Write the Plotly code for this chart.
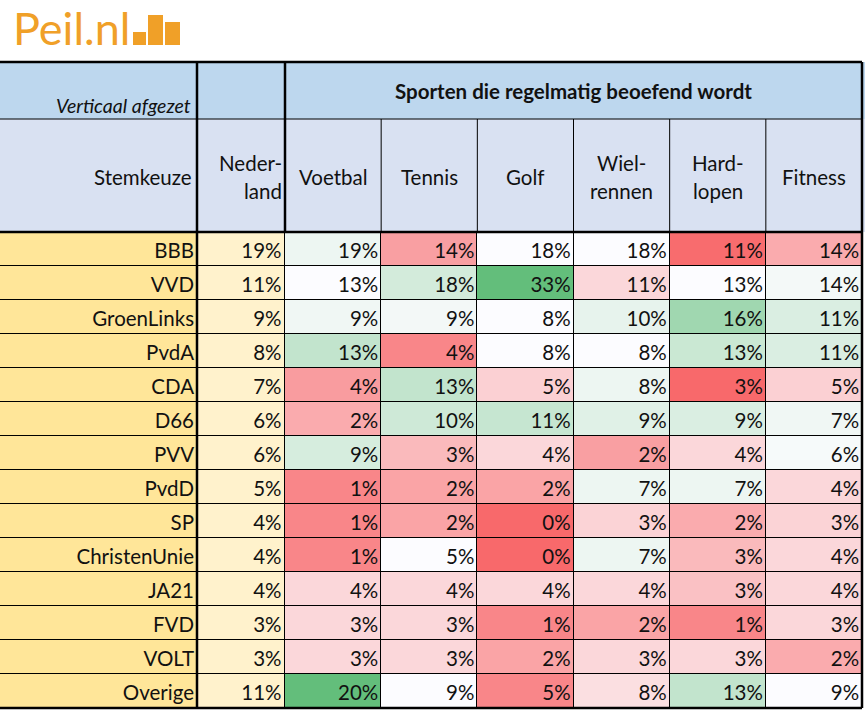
import plotly.graph_objects as go

# ---------------- data ----------------
parties = ["BBB", "VVD", "GroenLinks", "PvdA", "CDA", "D66", "PVV", "PvdD", "SP",
           "ChristenUnie", "JA21", "FVD", "VOLT", "Overige"]
nederland = [19, 11, 9, 8, 7, 6, 6, 5, 4, 4, 4, 3, 3, 11]
sport_labels = [["Voetbal"], ["Tennis"], ["Golf"], ["Wiel-", "rennen"], ["Hard-", "lopen"], ["Fitness"]]
voetbal = [19, 13, 9, 13, 4, 2, 9, 1, 1, 1, 4, 3, 3, 20]
tennis = [14, 18, 9, 4, 13, 10, 3, 2, 2, 5, 4, 3, 3, 9]
golf = [18, 33, 8, 8, 5, 11, 4, 2, 0, 0, 4, 1, 2, 5]
wielrennen = [18, 11, 10, 8, 8, 9, 2, 7, 3, 7, 4, 2, 3, 8]
hardlopen = [11, 13, 16, 13, 3, 9, 4, 7, 2, 3, 3, 1, 3, 13]
fitness = [14, 14, 11, 11, 5, 7, 6, 4, 3, 4, 4, 3, 2, 9]
# colour-scale score per cell (-1 = red, 0 = white, +1 = green)
score_voetbal = [0.10, 0.00, 0.08, 0.38, -0.65, -0.55, 0.25, -0.80, -0.80, -0.80, -0.25, -0.25, -0.25, 1.00]
score_tennis = [-0.63, 0.27, 0.06, -0.80, 0.38, 0.30, -0.45, -0.60, -0.60, 0.00, -0.25, -0.25, -0.25, 0.00]
score_golf = [0.00, 1.00, 0.00, 0.00, -0.30, 0.35, -0.25, -0.60, -1.00, -1.00, -0.25, -0.80, -0.60, -0.80]
score_wiel = [0.00, -0.25, 0.14, 0.00, 0.10, 0.18, -0.63, 0.10, -0.28, 0.10, -0.25, -0.60, -0.25, -0.20]
score_hard = [-0.98, 0.00, 0.60, 0.33, -1.00, 0.22, -0.25, 0.10, -0.55, -0.45, -0.40, -0.80, -0.25, 0.38]
score_fitness = [-0.55, 0.05, 0.22, 0.22, -0.30, 0.08, 0.04, -0.25, -0.28, -0.25, -0.25, -0.25, -0.55, 0.00]
title_text = "Sporten die regelmatig beoefend wordt"
corner_text = "Verticaal afgezet"
row_header = "Stemkeuze"
nl_header = ["Neder-", "land"]

sports = [voetbal, tennis, golf, wielrennen, hardlopen, fitness]
scores = [score_voetbal, score_tennis, score_golf, score_wiel, score_hard, score_fitness]

# ---------------- layout helpers ----------------
W, H = 865, 712
def X(px): return px / W
def Y(py): return 1 - py / H

FONT = "Lato, 'Open Sans', sans-serif"
FS = 20.5
TXT = "#111111"
TOP, MID, HEAD_BOT, BOT = 62, 119, 232, 708
C0, C1, C2, CR = 197, 285, 862, 862
TEXT_DY = 0.11  # vertical nudge of cell text (in rows) to centre it like the reference

nrow = len(parties)
ncol = len(sports)
rows = list(range(nrow))
cols = list(range(ncol))
text_rows = [r + TEXT_DY for r in rows]

fig = go.Figure()

# sports heatmap
z = [[scores[c][r] for c in cols] for r in rows]
fig.add_trace(go.Heatmap(
    z=z, x=cols, y=rows, xaxis="x", yaxis="y",
    colorscale=[[0, "#F8696B"], [0.5, "#FCFCFF"], [1, "#63BE7B"]],
    zmin=-1, zmax=1, showscale=False, xgap=1, ygap=1, hoverinfo="skip"))
for c in cols:
    fig.add_trace(go.Scatter(
        x=[c + 0.47] * nrow, y=text_rows, mode="text",
        text=[f"{v}%" for v in sports[c]], textposition="middle left",
        textfont=dict(family=FONT, size=FS, color=TXT),
        xaxis="x", yaxis="y", hoverinfo="skip", showlegend=False))

# Nederland column
fig.add_trace(go.Heatmap(
    z=[[v] for v in nederland], x=[0], y=rows, xaxis="x2", yaxis="y",
    colorscale=[[0, "#FFF2CC"], [1, "#FFF2CC"]], showscale=False,
    xgap=1, ygap=1, hoverinfo="skip"))
fig.add_trace(go.Scatter(
    x=[0.46] * nrow, y=text_rows, mode="text",
    text=[f"{v}%" for v in nederland], textposition="middle left",
    textfont=dict(family=FONT, size=FS, color=TXT),
    xaxis="x2", yaxis="y", hoverinfo="skip", showlegend=False))

# party column
fig.add_trace(go.Heatmap(
    z=[[1] for _ in parties], x=[0], y=rows, xaxis="x3", yaxis="y",
    colorscale=[[0, "#FFE699"], [1, "#FFE699"]], showscale=False,
    xgap=1, ygap=1, hoverinfo="skip"))
fig.add_trace(go.Scatter(
    x=[0.485] * nrow, y=text_rows, mode="text",
    text=parties, textposition="middle left",
    textfont=dict(family=FONT, size=FS, color=TXT),
    xaxis="x3", yaxis="y", hoverinfo="skip", showlegend=False))

hidden = dict(visible=False, fixedrange=True)
fig.update_layout(
    width=W, height=H, margin=dict(l=0, r=0, t=0, b=0),
    paper_bgcolor="white", plot_bgcolor="black", showlegend=False,
    xaxis=dict(domain=[X(C1), X(C2)], range=[-0.5, ncol - 0.5], anchor="y", **hidden),
    xaxis2=dict(domain=[X(C0), X(C1)], range=[-0.5, 0.5], anchor="y", **hidden),
    xaxis3=dict(domain=[X(0), X(C0)], range=[-0.49, 0.5], anchor="y", **hidden),
    yaxis=dict(domain=[Y(BOT), Y(HEAD_BOT)], range=[nrow - 0.5, -0.5], anchor="x", **hidden),
)

shapes = []
def rect(x0, y0, x1, y1, color):
    shapes.append(dict(type="rect", xref="paper", yref="paper", x0=X(x0), x1=X(x1),
                       y0=Y(y1), y1=Y(y0), fillcolor=color, line=dict(width=0), layer="below"))
def line(x0, y0, x1, y1, w=1, color="black"):
    shapes.append(dict(type="line", xref="paper", yref="paper", x0=X(x0), x1=X(x1),
                       y0=Y(y0), y1=Y(y1), line=dict(color=color, width=w)))

rect(0, TOP, W, MID, "#BDD7EE")
rect(0, MID, W, HEAD_BOT, "#D9E1F2")
for c in cols[1:]:
    shapes.append(dict(type="line", xref="x", yref="paper", x0=c - 0.5, x1=c - 0.5,
                       y0=Y(HEAD_BOT), y1=Y(MID), line=dict(color="black", width=1)))
line(0, MID, CR, MID, 1)
line(0, TOP, CR, TOP, 2.5)
line(0, HEAD_BOT, CR, HEAD_BOT, 2.5)
line(0, BOT, CR, BOT, 2.5)
line(C0, TOP, C0, BOT, 2.5)
line(C1, TOP, C1, HEAD_BOT, 2.5)
line(CR, TOP, CR, BOT, 2.5)

ORANGE = "#F0A028"
for (x0, x1, y0) in [(133, 146, 32), (148, 163, 15), (165, 180, 22)]:
    shapes.append(dict(type="rect", xref="paper", yref="paper", x0=X(x0), x1=X(x1),
                       y0=Y(45), y1=Y(y0), fillcolor=ORANGE, line=dict(width=0)))
fig.update_layout(shapes=shapes)

ann = []
ann.append(dict(text="Peil.nl", xref="paper", yref="paper", x=X(11), y=Y(28),
                xanchor="left", yanchor="middle", showarrow=False,
                font=dict(family=FONT, size=45, color=ORANGE)))
ann.append(dict(text=f"<i>{corner_text}</i>", xref="paper", yref="paper", x=X(193), y=Y(106),
                xanchor="right", yanchor="middle", showarrow=False,
                font=dict(family=FONT, size=19.5, color=TXT)))
ann.append(dict(text=f"<b>{title_text}</b>", xref="paper", yref="paper", x=X((C1 + C2) / 2), y=Y(91),
                xanchor="center", yanchor="middle", showarrow=False,
                font=dict(family=FONT, size=FS, color=TXT)))
ann.append(dict(text=row_header, xref="paper", yref="paper", x=X(194), y=Y(177),
                xanchor="right", yanchor="middle", showarrow=False,
                font=dict(family=FONT, size=FS, color=TXT)))
for i, t in enumerate(nl_header):
    ann.append(dict(text=t, xref="paper", yref="paper", x=X(284), y=Y(163 + 28 * i),
                    xanchor="right", yanchor="middle", showarrow=False,
                    font=dict(family=FONT, size=FS, color=TXT)))
for c, lines in enumerate(sport_labels):
    ys = [177] if len(lines) == 1 else [163, 191]
    for t, yy in zip(lines, ys):
        ann.append(dict(text=t, xref="x", yref="paper", x=c, y=Y(yy),
                        xanchor="center", yanchor="middle", showarrow=False,
                        font=dict(family=FONT, size=FS, color=TXT)))
fig.update_layout(annotations=ann)

fig.write_html("out.html", config={"displayModeBar": False},
               post_script="document.body.style.margin='0';document.body.style.overflow='hidden';")
